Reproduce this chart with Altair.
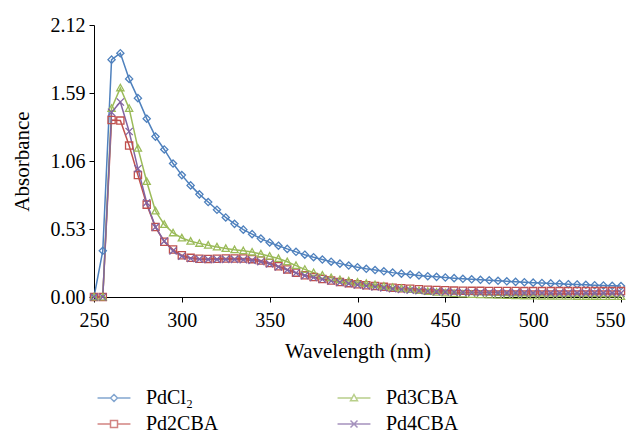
import altair as alt
import pandas as pd

WAVELENGTH = [250, 255, 260, 265, 270, 275, 280, 285, 290, 295,
              300, 305, 310, 315, 320, 325, 330, 335, 340, 345,
              350, 355, 360, 365, 370, 375, 380, 385, 390, 395,
              400, 405, 410, 415, 420, 425, 430, 435, 440, 445,
              450, 455, 460, 465, 470, 475, 480, 485, 490, 495,
              500, 505, 510, 515, 520, 525, 530, 535, 540, 545, 550]

PDCL2 = [0.00, 0.36, 1.85, 1.90, 1.70, 1.55, 1.39, 1.25, 1.15, 1.04,
         0.95, 0.87, 0.80, 0.74, 0.68, 0.62, 0.57, 0.525, 0.49, 0.455,
         0.425, 0.40, 0.375, 0.352, 0.33, 0.31, 0.292, 0.275, 0.26, 0.245,
         0.232, 0.22, 0.21, 0.20, 0.19, 0.182, 0.175, 0.168, 0.162, 0.157,
         0.152, 0.147, 0.142, 0.138, 0.134, 0.130, 0.126, 0.122, 0.118, 0.115,
         0.112, 0.109, 0.106, 0.103, 0.100, 0.098, 0.095, 0.092, 0.090, 0.087, 0.085]

PD2CBA = [0.00, 0.00, 1.38, 1.375, 1.18, 0.95, 0.72, 0.545, 0.43, 0.37,
          0.325, 0.305, 0.298, 0.297, 0.298, 0.30, 0.30, 0.30, 0.295, 0.285,
          0.265, 0.24, 0.215, 0.19, 0.17, 0.155, 0.14, 0.128, 0.117, 0.108,
          0.10, 0.092, 0.085, 0.079, 0.073, 0.068, 0.064, 0.06, 0.057, 0.054,
          0.052, 0.050, 0.049, 0.048, 0.048, 0.047, 0.047, 0.047, 0.047, 0.046,
          0.046, 0.046, 0.046, 0.046, 0.046, 0.046, 0.046, 0.046, 0.046, 0.046, 0.046]

PD3CBA = [0.00, 0.00, 1.47, 1.63, 1.47, 1.16, 0.90, 0.67, 0.565, 0.50,
          0.46, 0.435, 0.418, 0.403, 0.39, 0.378, 0.368, 0.36, 0.35, 0.335,
          0.318, 0.30, 0.275, 0.245, 0.215, 0.19, 0.17, 0.15, 0.135, 0.125,
          0.115, 0.105, 0.095, 0.085, 0.075, 0.066, 0.058, 0.05, 0.043, 0.037,
          0.032, 0.027, 0.023, 0.02, 0.017, 0.015, 0.013, 0.011, 0.010, 0.009,
          0.008, 0.007, 0.007, 0.006, 0.006, 0.005, 0.005, 0.005, 0.004, 0.004, 0.004]

PD4CBA = [0.00, 0.00, 1.44, 1.52, 1.29, 1.00, 0.735, 0.545, 0.435, 0.36,
          0.318, 0.30, 0.295, 0.293, 0.293, 0.293, 0.293, 0.29, 0.285, 0.275,
          0.258, 0.235, 0.21, 0.187, 0.167, 0.152, 0.138, 0.125, 0.114, 0.104,
          0.095, 0.086, 0.078, 0.071, 0.064, 0.058, 0.053, 0.049, 0.045, 0.042,
          0.040, 0.038, 0.036, 0.035, 0.034, 0.033, 0.033, 0.032, 0.032, 0.031,
          0.031, 0.031, 0.030, 0.030, 0.030, 0.030, 0.030, 0.030, 0.030, 0.030, 0.030]

SERIES = ["PdCl₂", "Pd2CBA", "Pd3CBA", "Pd4CBA"]
VALUES = [PDCL2, PD2CBA, PD3CBA, PD4CBA]
COLORS = ["#4F81BD", "#C0504D", "#9BBB59", "#8064A2"]
MARKERS = ["M0,-1L1,0L0,1L-1,0Z",
           "M-1,-1L1,-1L1,1L-1,1Z",
           "M0,-1L1,0.8L-1,0.8Z",
           "M-1,-1L1,1M-1,1L1,-1"]
LEGEND_SYMBOLS = ["M-4.7,0L-1,0M0,-1L1,0L0,1L-1,0ZM1,0L4.7,0",
                  "M-4.7,0L-1,0M-1,-1L1,-1L1,1L-1,1ZM1,0L4.7,0",
                  "M-4.7,0L-0.556,0M0,-1L1,0.8L-1,0.8ZM0.556,0L4.7,0",
                  "M-4.7,0L4.7,0M-1,-1L1,1M-1,1L1,-1"]

rows = []
for name, vals in zip(SERIES, VALUES):
    for w, v in zip(WAVELENGTH, vals):
        rows.append({"wavelength": w, "absorbance": v, "series": name})
df = pd.DataFrame(rows)

FONT = "Liberation Serif"

x = alt.X("wavelength:Q",
          scale=alt.Scale(domain=[250, 550], nice=False, zero=False),
          axis=alt.Axis(title="Wavelength (nm)", values=[250, 300, 350, 400, 450, 500, 550],
                        grid=False, tickSize=5, labelPadding=8, titlePadding=10,
                        labelFlush=False,
                        labelOffset={"condition": {"test": "datum.value == 550", "value": -11},
                                     "value": 0}))
y = alt.Y("absorbance:Q",
          scale=alt.Scale(domain=[0, 2.12], nice=False),
          axis=alt.Axis(title="Absorbance", values=[0, 0.53, 1.06, 1.59, 2.12], format=".2f",
                        grid=False, tickSize=5, labelPadding=4, titlePadding=18,
                        labelFlush=False))

color_scale = alt.Scale(domain=SERIES, range=COLORS)

lines = alt.Chart(df).mark_line(strokeWidth=1.5).encode(
    x=x, y=y,
    color=alt.Color("series:N", scale=color_scale, legend=None),
    detail="series:N",
)

points = alt.Chart(df).mark_point(filled=False, strokeWidth=1.3, size=52, opacity=1).encode(
    x=x, y=y,
    color=alt.Color("series:N", scale=color_scale, legend=None),
    shape=alt.Shape("series:N", scale=alt.Scale(domain=SERIES, range=MARKERS), legend=None),
)

leg = alt.Legend(orient="none", legendX=10, legendY=363, columns=2, title=None,
                 symbolSize=49, symbolStrokeWidth=1.5, labelOffset=22,
                 labelFont=FONT, labelFontSize=20, labelColor="black",
                 columnPadding=115, rowPadding=6, padding=0)

legend_layer = alt.Chart(df).mark_point(filled=False, strokeWidth=1.5, size=0).encode(
    x=x, y=y,
    color=alt.Color("series:N", scale=color_scale, legend=leg),
    shape=alt.Shape("series:N", scale=alt.Scale(domain=SERIES, range=LEGEND_SYMBOLS), legend=leg),
)

chart = alt.layer(lines, points, legend_layer).resolve_scale(
    color="independent", shape="independent"
).properties(
    width=527, height=272,
    autosize=alt.AutoSizeParams(type="none"),
    padding={"left": 86, "top": 17, "right": 5, "bottom": 137},
).configure_view(stroke=None).configure_axis(
    labelFont=FONT, titleFont=FONT, labelFontSize=20, titleFontSize=21,
    labelColor="black", titleColor="black", titleFontWeight="normal",
    domainColor="black", tickColor="black", domainWidth=1, tickWidth=1,
)

chart.save("out.html", embed_options={"renderer": "svg", "actions": False})
